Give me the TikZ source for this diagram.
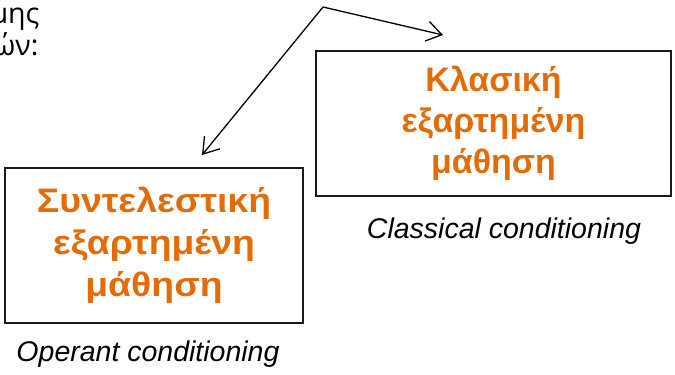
\documentclass[tikz,border=0pt]{standalone}
\usepackage{fontspec}
\setmainfont{Liberation Sans}
\newfontfamily\headfont{Open Sans}
\newfontfamily\widefont[FakeStretch=1.1]{Liberation Sans}
\usetikzlibrary{arrows.meta}
\definecolor{learnorange}{HTML}{E36C09}
\definecolor{boxline}{HTML}{1A1A1A}
\begin{document}
\begin{tikzpicture}[x=1pt,y=-1pt,
  typebox/.style={draw=boxline,line width=1.5pt,rectangle,inner sep=0pt,
    align=center,text=learnorange,
    font=\fontsize{34}{41}\selectfont\bfseries},
  caption/.style={font=\fontsize{28.5}{32}\selectfont\itshape,anchor=base},
  headtext/.style={font=\headfont\fontsize{28.5}{32}\selectfont,anchor=base east},
  link/.style={line width=1.3pt,
    {Straight Barb[length=15pt,width=20pt,line width=1.3pt]}-{Straight Barb[length=15pt,width=20pt,line width=1.3pt]}}]
\useasboundingbox (0,0) rectangle (675,375);

% heading lines, running off the left edge
\node[headtext] (head1) at (43,23) {μης};
\node[headtext] (head2) at (42,55) {ών:};

% the two kinds of conditioning
\node[typebox,minimum width=355pt,minimum height=145pt] (classic) at (493.5,123.5)
  {Κλασική\\εξαρτημένη\\μάθηση};
\node[typebox,minimum width=298pt,minimum height=155pt,
  font=\widefont\fontsize{34}{42}\selectfont\bfseries] (operant) at (154,245.5)
  {Συντελεστική\\εξαρτημένη\\μάθηση};

\node[caption] (classiclab) at (504,238) {Classical conditioning};
\node[caption] (operantlab) at (148,361) {Operant conditioning};

% double arrow bending at the top
\coordinate (apex) at (323,7);
\coordinate (toclassic) at (443,35);
\coordinate (tooperant) at (202,155);
\draw[link] (tooperant) -- (apex) -- (toclassic);
\end{tikzpicture}
\end{document}
